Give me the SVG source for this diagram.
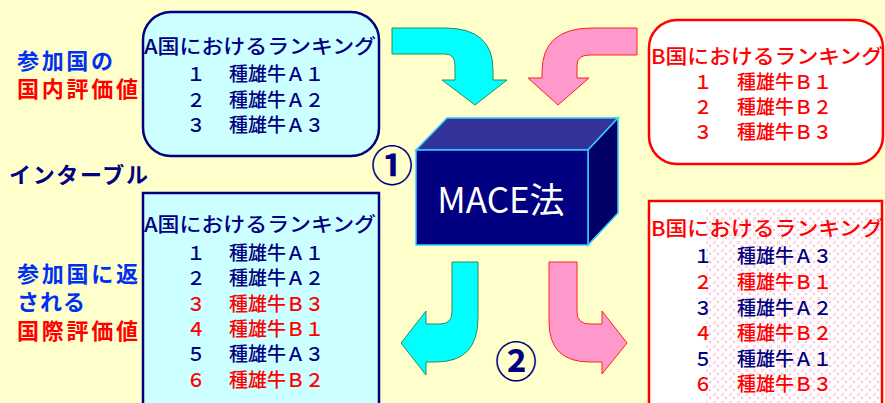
<svg xmlns="http://www.w3.org/2000/svg" width="885" height="403" viewBox="0 0 885 403">
<style>
text{font-family:"Noto Sans CJK JP","Noto Sans",sans-serif}
.lbl{font-size:22px;font-weight:bold}
.hd{font-size:20px;font-weight:500}
.row{font-size:19px;font-weight:500}
.nv{fill:#000080}
.rd{fill:#FF0000}
.bl{fill:#0030F0}
.cy{fill:#00FFFF;stroke:#2E8B57;stroke-width:1}
.pk{fill:#FF99CC;stroke:#FF2020;stroke-width:1}
.circ{font-size:42px;font-weight:bold;fill:#000080}
</style>
<defs>
<pattern id="dots" width="8" height="8" patternUnits="userSpaceOnUse">
<rect width="8" height="8" fill="#FFFFFF"/>
<path d="M1,1 L4,4 M4,1 L1,4" stroke="#FFB0CC" stroke-width="1"/>
<circle cx="6" cy="6" r="1.2" fill="#FFC0D8"/>
</pattern>
</defs>
<rect width="885" height="403" fill="#FFFFCC"/>

<g id="labels-left">
<text class="lbl bl" x="17" y="69" textLength="96">参加国の</text>
<text class="lbl rd" x="17" y="97" textLength="121">国内評価値</text>
<text class="lbl nv" x="9" y="183" textLength="139" font-size="23">インターブル</text>
<text class="lbl bl" x="17" y="282" textLength="121">参加国に返</text>
<text class="lbl bl" x="17" y="310" textLength="68">される</text>
<text class="lbl rd" x="17" y="339" textLength="121">国際評価値</text>
</g>

<g id="boxA-domestic">
<rect x="143" y="12" width="236" height="144" rx="28" fill="#CCFFFF" stroke="#000080" stroke-width="2.5"/>
<text class="hd nv" x="144" y="54" textLength="232" lengthAdjust="spacingAndGlyphs">A国におけるランキング</text>
<text class="row nv" y="81"><tspan x="186.5">１</tspan><tspan x="229">種雄牛Ａ１</tspan></text>
<text class="row nv" y="107"><tspan x="186.5">２</tspan><tspan x="229">種雄牛Ａ２</tspan></text>
<text class="row nv" y="132"><tspan x="186.5">３</tspan><tspan x="229">種雄牛Ａ３</tspan></text>
</g>

<g id="boxB-domestic">
<rect x="649" y="20" width="234" height="144" rx="28" fill="#FFFFFF" stroke="#FF0000" stroke-width="2.5"/>
<text class="hd rd" x="651" y="64" textLength="232" lengthAdjust="spacingAndGlyphs">B国におけるランキング</text>
<text class="row rd" y="89"><tspan x="693.5">１</tspan><tspan x="737">種雄牛Ｂ１</tspan></text>
<text class="row rd" y="114"><tspan x="693.5">２</tspan><tspan x="737">種雄牛Ｂ２</tspan></text>
<text class="row rd" y="139"><tspan x="693.5">３</tspan><tspan x="737">種雄牛Ｂ３</tspan></text>
</g>

<g id="mace">
<polygon points="416,150 447,118 618,118 588,150" fill="#333399" stroke="#33CCFF" stroke-width="1.5"/>
<polygon points="588,150 618,118 618,213 588,245" fill="#000066" stroke="#33CCFF" stroke-width="1.5"/>
<rect x="416" y="150" width="172" height="95" fill="#000080" stroke="#33CCFF" stroke-width="1.5"/>
<text x="501" y="213" text-anchor="middle" font-size="35" fill="#FFFFFF">MACE法</text>
</g>

<g id="step1"><text class="circ" x="392" y="181" text-anchor="middle">①</text></g>
<g id="step2"><text class="circ" x="516" y="377" text-anchor="middle">②</text></g>

<g id="connectors">
<path class="cy" d="M392,28 H445 Q493,28 493,70 V80 H507 L475,105 L442,80 H455 V66 Q455,54 445,54 H392 Z"/>
<path class="pk" d="M637,28 H592 Q542,28 542,72 V78 H528 L558,105 L589,78 H577 V65 Q577,55 590,55 H637 Z"/>
<path class="cy" d="M452,262 H478 V318 Q478,362 436,362 H426 V375 L401,343 L426,311 V324 H440 Q452,324 452,312 Z"/>
<path class="pk" d="M549,262 H577 V312 Q577,324 590,324 H602 V311 L627,343 L602,374 V362 H590 Q549,362 549,322 Z"/>
</g>

<g id="boxA-international">
<rect x="143" y="193" width="236" height="230" fill="#CCFFFF" stroke="#000080" stroke-width="2.5"/>
<text class="hd nv" x="144" y="232" textLength="232" lengthAdjust="spacingAndGlyphs">A国におけるランキング</text>
<text class="row nv" y="260"><tspan x="186.5">１</tspan><tspan x="229">種雄牛Ａ１</tspan></text>
<text class="row nv" y="285"><tspan x="186.5">２</tspan><tspan x="229">種雄牛Ａ２</tspan></text>
<text class="row rd" y="311"><tspan x="186.5">３</tspan><tspan x="229">種雄牛Ｂ３</tspan></text>
<text class="row rd" y="336"><tspan x="186.5">４</tspan><tspan x="229">種雄牛Ｂ１</tspan></text>
<text class="row nv" y="361"><tspan x="186.5">５</tspan><tspan x="229">種雄牛Ａ３</tspan></text>
<text class="row rd" y="387"><tspan x="186.5">６</tspan><tspan x="229">種雄牛Ｂ２</tspan></text>
</g>

<g id="boxB-international">
<rect x="649" y="201" width="233" height="230" fill="#FFFFFF" stroke="#FF0000" stroke-width="2.5"/>
<rect x="706" y="207" width="174" height="200" fill="url(#dots)"/>
<text class="hd rd" x="651" y="236" textLength="232" lengthAdjust="spacingAndGlyphs">B国におけるランキング</text>
<text class="row nv" y="263"><tspan x="693.5">１</tspan><tspan x="737">種雄牛Ａ３</tspan></text>
<text class="row rd" y="289"><tspan x="693.5">２</tspan><tspan x="737">種雄牛Ｂ１</tspan></text>
<text class="row nv" y="315"><tspan x="693.5">３</tspan><tspan x="737">種雄牛Ａ２</tspan></text>
<text class="row rd" y="340"><tspan x="693.5">４</tspan><tspan x="737">種雄牛Ｂ２</tspan></text>
<text class="row nv" y="366"><tspan x="693.5">５</tspan><tspan x="737">種雄牛Ａ１</tspan></text>
<text class="row rd" y="391"><tspan x="693.5">６</tspan><tspan x="737">種雄牛Ｂ３</tspan></text>
</g>
</svg>
